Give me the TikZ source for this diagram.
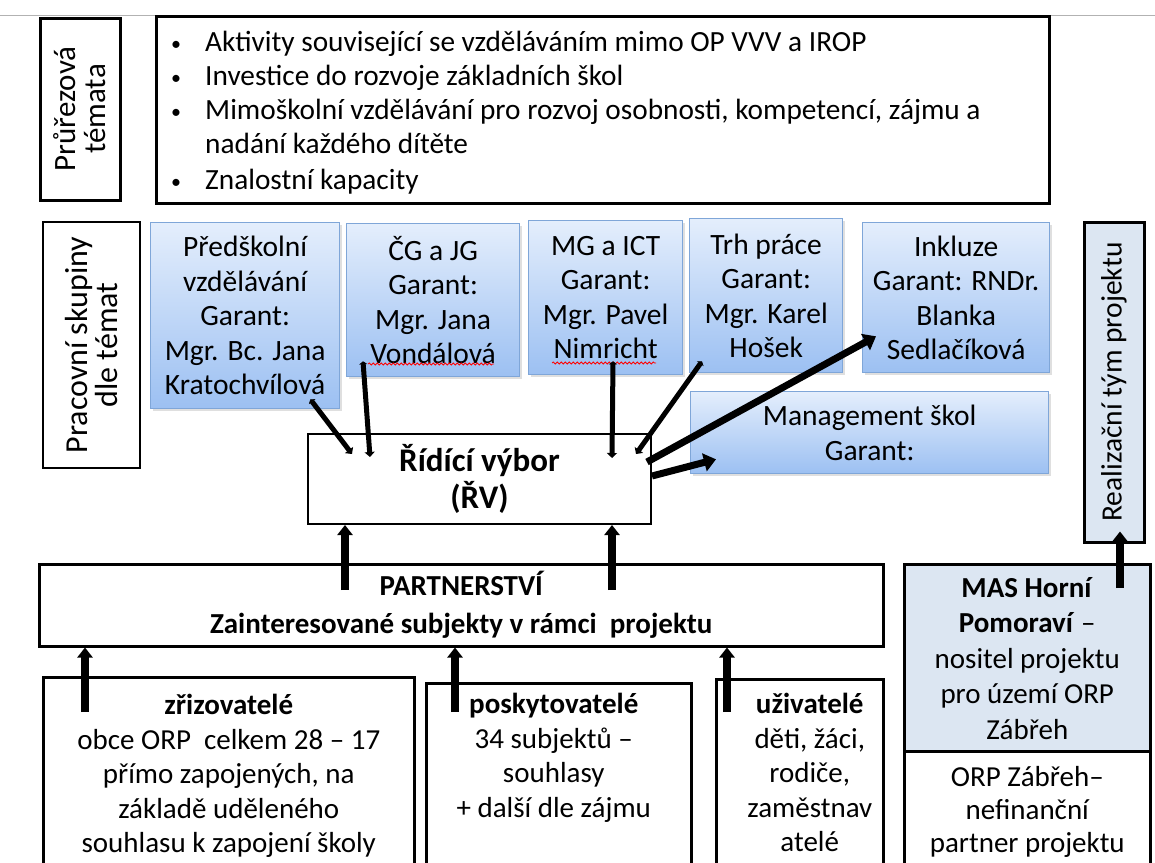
\documentclass[tikz,border=0pt]{standalone}
\usepackage{fontspec}
\setmainfont{Carlito}
\usetikzlibrary{arrows.meta,decorations.pathmorphing,shadows}
\definecolor{blueedge}{HTML}{7FA6D8}
\definecolor{bluetop}{HTML}{E4EEFC}
\definecolor{bluebot}{HTML}{9CC0F2}
\definecolor{grayblue}{HTML}{DCE6F2}
\begin{document}
\begin{tikzpicture}[x=1pt,y=1pt,
  blk/.style={draw=black, line width=2.5pt, inner sep=0pt, align=center},
  bluebox/.style={draw=blueedge, line width=1.3pt, top color=bluetop, bottom color=bluebot,
    inner sep=0pt, align=center, font=\fontsize{29.5}{34.5}\selectfont,
    drop shadow={shadow xshift=2pt, shadow yshift=-2pt, opacity=0.25}},
  txt/.style={inner sep=0pt, align=center, font=\fontsize{29}{34.5}\selectfont},
  btxt/.style={inner sep=0pt, font=\fontsize{29.3}{34}\selectfont},
  dot/.style={inner sep=0pt, font=\fontsize{20}{34}\selectfont},
  vtxt/.style={font=\fontsize{32}{30}\selectfont},
  arr/.style={line width=5pt, {Triangle[length=3pt,width=8pt]}-{Triangle[length=5pt,width=10pt]}},
  bigarr/.style={line width=7pt, -{Triangle[length=12pt,width=18pt]}},
  uparr/.style={line width=8pt, -{Triangle[length=10pt,width=15pt]}},
  squig/.style={draw=red, line width=0.8pt, decorate, decoration={snake, amplitude=1pt, segment length=4pt}}
]
\useasboundingbox (0,0) rectangle (1155,-862);
\clip (0,0) rectangle (1155,-862);
\fill[white] (0,0) rectangle (1155,-862);
\draw[gray!60, line width=1pt] (0,-15) coordinate (tl) -- (1155,-15) coordinate (tr);

% top row
\node[blk, line width=3pt, rotate=90, minimum width=182pt, minimum height=80pt, font=\fontsize{31}{30}\selectfont] (pruz) at (80,-109) {Průřezová\\témata};
\node[blk, minimum width=893pt, minimum height=187pt, anchor=north west] (bul) at (155,-15) {};
\node[dot, anchor=base] (d1) at (176,-50) {•};
\node[btxt, anchor=base west] (l1) at (205,-51) {Aktivity související se vzděláváním mimo OP VVV a IROP};
\node[dot, anchor=base] (d2) at (176,-84) {•};
\node[btxt, anchor=base west] (l2) at (205,-85) {Investice do rozvoje základních škol};
\node[dot, anchor=base] (d3) at (176,-118) {•};
\node[btxt, anchor=base west] (l3) at (205,-119) {Mimoškolní vzdělávání pro rozvoj osobnosti, kompetencí, zájmu a};
\node[btxt, anchor=base west] (l4) at (205,-153) {nadání každého dítěte};
\node[dot, anchor=base] (d5) at (176,-188) {•};
\node[btxt, anchor=base west] (l5) at (205,-189) {Znalostní kapacity};

% working groups
\node[blk, rotate=90, minimum width=246pt, minimum height=97pt, vtxt] (prac) at (91.5,-345) {Pracovní skupiny\\dle témat};
\node[bluebox, minimum width=189pt, minimum height=186pt, anchor=north west] (pre) at (150,-222) {Předškolní\\vzdělávání\\Garant:\\Mgr. Bc. Jana\\Kratochvílová};
\node[bluebox, minimum width=173pt, minimum height=153pt, anchor=north west] (cg) at (346,-223) {ČG a JG\\Garant:\\Mgr. Jana\\Vondálová};
\node[bluebox, minimum width=154pt, minimum height=154pt, anchor=north west] (mg) at (528,-220) {MG a ICT\\Garant:\\Mgr. Pavel\\Nimricht};
\node[bluebox, minimum width=153pt, minimum height=154pt, anchor=north west] (trh) at (689,-218) {Trh práce\\Garant:\\Mgr. Karel\\Hošek};
\node[bluebox, minimum width=187pt, minimum height=150pt, anchor=north west] (ink) at (862,-222) {Inkluze\\Garant: RNDr.\\Blanka\\Sedlačíková};
\node[bluebox, minimum width=358pt, minimum height=82pt, anchor=north west] (man) at (690,-391) {Management škol\\Garant:};
\draw[squig] ([shift={(22,-141)}]cg.north west) -- ([shift={(148,-141)}]cg.north west);
\draw[squig] ([shift={(24,-143)}]mg.north west) -- ([shift={(128,-143)}]mg.north west);

\node[blk, fill=grayblue, line width=3pt, rotate=90, minimum width=320pt, minimum height=60pt, font=\fontsize{29.5}{30}\selectfont] (real) at (1114,-382) {Realizační tým projektu};

% steering committee
\node[blk, line width=2pt, minimum width=343pt, minimum height=90pt, anchor=north west, font=\bfseries\fontsize{33}{37}\selectfont] (rv) at (307,-433) {Řídící výbor\\(ŘV)};

% partnership
\node[blk, minimum width=844pt, minimum height=82pt, anchor=north west, font=\bfseries\fontsize{29}{38}\selectfont] (par) at (38,-563) {PARTNERSTVÍ\\Zainteresované subjekty v rámci\ \ projektu};

\node[blk, fill=grayblue, minimum width=246pt, minimum height=187pt, anchor=north west] (mas) at (903,-563) {};
\node[txt, anchor=north, font=\fontsize{29}{35.5}\selectfont] (mast) at ([yshift=-14pt]mas.north) {\textbf{MAS Horní}\\\textbf{Pomoraví} –\\nositel projektu\\pro území ORP\\Zábřeh};
\node[blk, minimum width=246pt, minimum height=140pt, anchor=north west] (orp) at (903,-750) {};
\node[txt, anchor=north, font=\fontsize{29}{33}\selectfont] (orpt) at ([yshift=-16pt]orp.north) {ORP Zábřeh–\\nefinanční\\partner projektu};

% bottom boxes
\node[blk, minimum width=371pt, minimum height=200pt, anchor=north west] (zri) at (42,-676) {};
\node[txt, anchor=north] (zrit) at ([shift={(0,-18)}]zri.north) {\textbf{zřizovatelé}\\obce ORP\ \ celkem 28 – 17\\přímo zapojených, na\\základě uděleného\\souhlasu k zapojení školy};
\node[blk, minimum width=265pt, minimum height=200pt, anchor=north west] (pos) at (425,-682) {};
\node[txt, anchor=north] (post) at ([shift={(-5,-11)}]pos.north) {\textbf{poskytovatelé}\\34 subjektů –\\souhlasy\\+ další dle zájmu};
\node[blk, minimum width=167pt, minimum height=200pt, anchor=north west] (uzi) at (715,-678) {};
\node[txt, anchor=north] (uzit) at ([shift={(10,-15)}]uzi.north) {\textbf{uživatelé}\\děti, žáci,\\rodiče,\\zaměstnav\\atelé};

% arrows to/from steering committee
\draw[arr] ([shift={(-30,10)}]pre.south east) -- ([shift={(45,-21)}]rv.north west);
\draw[arr] ([shift={(17,16)}]cg.south west) -- ([shift={(63,-24)}]rv.north west);
\draw[arr] ([shift={(85,14)}]mg.south west) -- ([shift={(305,-25)}]rv.north west);
\draw[arr] ([shift={(13,12)}]trh.south west) -- ([shift={(329,-21)}]rv.north west);
\draw[bigarr] ([shift={(-5,-29)}]rv.north east) -- ([shift={(14,37)}]ink.south west);
\draw[bigarr] ([shift={(0,-43)}]rv.north east) -- ([shift={(26,15)}]man.south west);

% upward arrows
\draw[uparr] ([shift={(307,-27)}]par.north west) -- ([xshift=38]rv.south west);
\draw[uparr] ([shift={(574,-27)}]par.north west) -- ([xshift=305]rv.south west);
\draw[uparr] ([shift={(43,-36)}]zri.north west) -- ([xshift=47]par.south west);
\draw[uparr] ([shift={(30,-30)}]pos.north west) -- ([xshift=417]par.south west);
\draw[uparr] ([shift={(12,-34)}]uzi.north west) -- ([xshift=689]par.south west);
\draw[uparr] ([shift={(217,-25)}]mas.north west) -- ([shift={(6,12)}]real.west);
\end{tikzpicture}
\end{document}
